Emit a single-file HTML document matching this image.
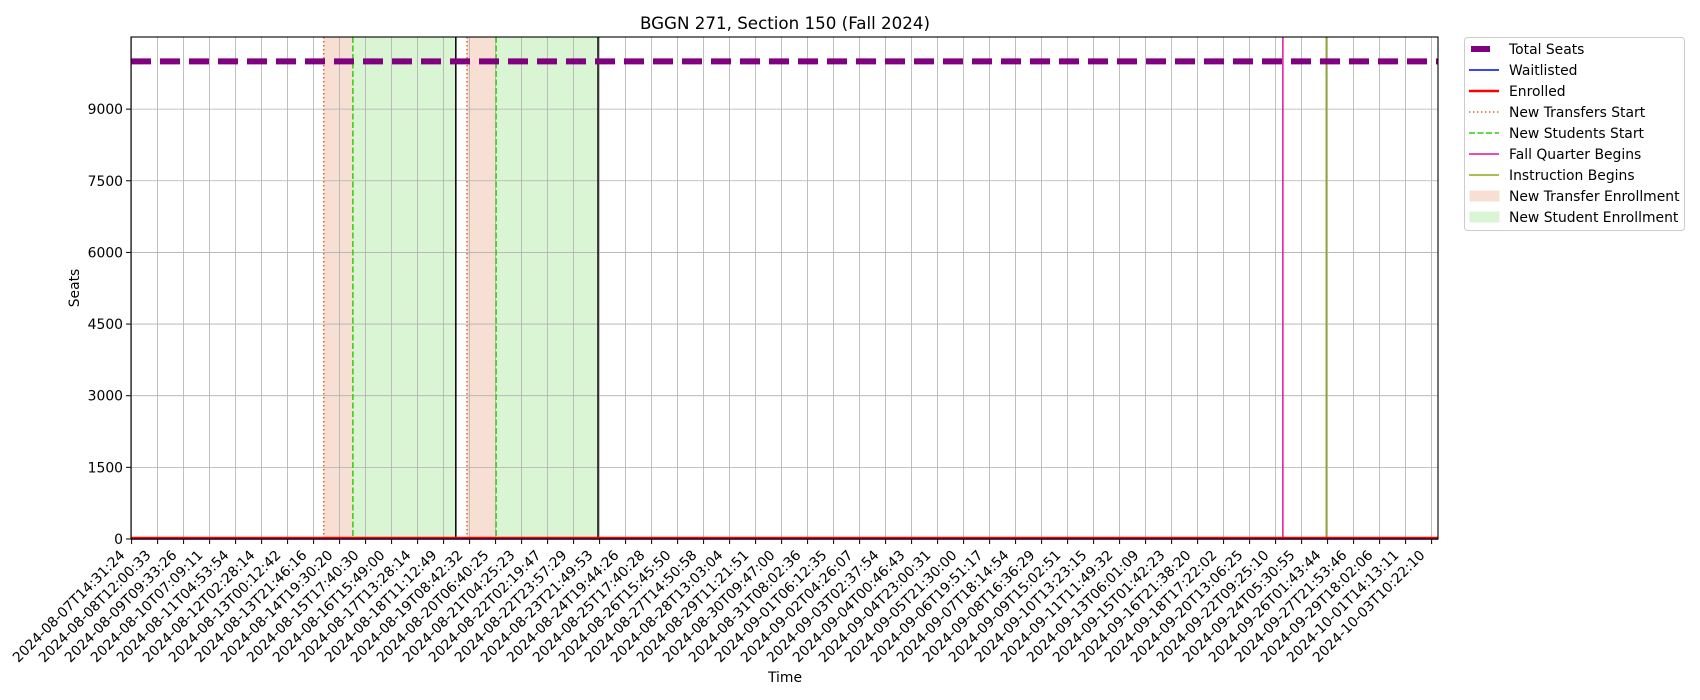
<!DOCTYPE html>
<html><head><meta charset="utf-8"><style>
html,body{margin:0;padding:0;background:#fff;}
svg{display:block;font-family:"DejaVu Sans","Liberation Sans",sans-serif;}
</style></head><body>
<svg id="chart" width="1700" height="700" viewBox="0 0 1700 700">
<text x="785" y="29" font-size="16.7" text-anchor="middle">BGGN 271, Section 150 (Fall 2024)</text>
<g id="plot"></g>
<text x="785" y="682" font-size="13.9" text-anchor="middle">Time</text>
<text transform="translate(79,288) rotate(-90)" font-size="13.9" text-anchor="middle">Seats</text>
<g id="legend"></g>
</svg>
<script>
const tickLabels = ["2024-08-07T14:31:24","2024-08-08T12:00:33","2024-08-09T09:33:26","2024-08-10T07:09:11","2024-08-11T04:53:54","2024-08-12T02:28:14","2024-08-13T00:12:42","2024-08-13T21:46:16","2024-08-14T19:30:20","2024-08-15T17:40:30","2024-08-16T15:49:00","2024-08-17T13:28:14","2024-08-18T11:12:49","2024-08-19T08:42:32","2024-08-20T06:40:25","2024-08-21T04:25:23","2024-08-22T02:19:47","2024-08-22T23:57:29","2024-08-23T21:49:53","2024-08-24T19:44:26","2024-08-25T17:40:28","2024-08-26T15:45:50","2024-08-27T14:50:58","2024-08-28T13:03:04","2024-08-29T11:21:51","2024-08-30T09:47:00","2024-08-31T08:02:36","2024-09-01T06:12:35","2024-09-02T04:26:07","2024-09-03T02:37:54","2024-09-04T00:46:43","2024-09-04T23:00:31","2024-09-05T21:30:00","2024-09-06T19:51:17","2024-09-07T18:14:54","2024-09-08T16:36:29","2024-09-09T15:02:51","2024-09-10T13:23:15","2024-09-11T11:49:32","2024-09-13T06:01:09","2024-09-15T01:42:23","2024-09-16T21:38:20","2024-09-18T17:22:02","2024-09-20T13:06:25","2024-09-22T09:25:10","2024-09-24T05:30:55","2024-09-26T01:43:44","2024-09-27T21:53:46","2024-09-29T18:02:06","2024-10-01T14:13:11","2024-10-03T10:22:10"];
const yTicks = [0,1500,3000,4500,6000,7500,9000];
const totalSeats = [10000, 10000];
const enrolled = [0, 0];
const waitlisted = [0, 0];
// event positions in tick-index units
const transferStarts = [7.39, 12.9];
const studentStarts = [8.51, 14.02];
const windowEnds = [12.47, 17.94];
const fallQuarterBegins = [44.28];
const instructionBegins = [45.95];

const L=131,R=1438,T=37,B=539;
const x0=131.6, dx=26;
const xs = i => x0 + i*dx;
const yMax=10510;
const ys = v => B - v/yMax*(B-T);
const NS="http://www.w3.org/2000/svg";
const plot=document.getElementById('plot');
function mk(tag,attrs,parent){const e=document.createElementNS(NS,tag);for(const k in attrs)e.setAttribute(k,attrs[k]);(parent||plot).appendChild(e);return e;}

for(let k=0;k<transferStarts.length;k++){
  const a=mk('rect',{x:xs(transferStarts[k]),y:T,width:xs(studentStarts[k])-xs(transferStarts[k]),height:B-T,fill:'#f7dfd4'});
  
  
  const b=mk('rect',{x:xs(studentStarts[k]),y:T,width:xs(windowEnds[k])-xs(studentStarts[k]),height:B-T,fill:'#d9f5d3'});
  
  
}
for(let i=0;i<tickLabels.length;i++){
  const g=mk('line',{x1:xs(i),x2:xs(i),y1:T,y2:B,stroke:'#b0b0b0','stroke-width':0.8});
  
  
}
yTicks.forEach(v=>{
  const g=mk('line',{x1:L,x2:R,y1:ys(v),y2:ys(v),stroke:'#b0b0b0','stroke-width':0.8});
  
  
});
function vline(v,color,dash,name){
  const l=mk('line',{x1:xs(v),x2:xs(v),y1:T,y2:B,stroke:color,'stroke-width':1.5});
  if(dash)l.setAttribute('stroke-dasharray',dash);
  
  
}
transferStarts.forEach(v=>vline(v,'#e8632a','1.5,2.5','new-transfers-start-line'));
studentStarts.forEach(v=>vline(v,'#33cc11','6,2.5','new-students-start-line'));
windowEnds.forEach(v=>vline(v,'#000','', 'enrollment-window-end-line'));
fallQuarterBegins.forEach(v=>vline(v,'#e0159e','','fall-quarter-begins-line'));
instructionBegins.forEach(v=>vline(v,'#8aaa1a','','instruction-begins-line'));
const ts=mk('line',{x1:L,x2:R,y1:ys(totalSeats[0]),y2:ys(totalSeats[1]),stroke:'#800080','stroke-width':6,'stroke-dasharray':'20,9'});


const wl=mk('line',{x1:L,x2:R,y1:ys(waitlisted[0]),y2:ys(waitlisted[1]),stroke:'#0000ff','stroke-width':1.5});


const en=mk('line',{x1:L,x2:R,y1:ys(enrolled[0])-1,y2:ys(enrolled[1])-1,stroke:'#ff0000','stroke-width':2.5});


const fr=mk('rect',{x:L,y:T,width:R-L,height:B-T,fill:'none',stroke:'#000','stroke-width':1.1});


tickLabels.forEach((t,i)=>{
  const x=xs(i);
  const tk=mk('line',{x1:x,x2:x,y1:B,y2:B+5,stroke:'#000','stroke-width':1});
  
  
  const tx=mk('text',{transform:`translate(${x-6},${B+17}) rotate(-45)`,'text-anchor':'end','font-size':13.9});
  tx.textContent=t;
  
  
});
yTicks.forEach(v=>{
  const y=ys(v);
  const tk=mk('line',{x1:L-5,x2:L,y1:y,y2:y,stroke:'#000','stroke-width':1});
  
  
  const tx=mk('text',{x:L-8,y:y+5,'text-anchor':'end','font-size':13.9});
  tx.textContent=v;
  
  
});
const lg=document.getElementById('legend');
mk('rect',{x:1464.5,y:37.5,width:220,height:193,rx:3,fill:'#fff',stroke:'#ccc','stroke-width':1},lg);
const items=[
 ['Total Seats','line','#800080',6,''],
 ['Waitlisted','line','#0000ff',1.5,''],
 ['Enrolled','line','#ff0000',2.5,''],
 ['New Transfers Start','line','#e8632a',1.5,'1.5,2.5'],
 ['New Students Start','line','#33cc11',1.5,'6,2.5'],
 ['Fall Quarter Begins','line','#e0159e',1.5,''],
 ['Instruction Begins','line','#8aaa1a',1.5,''],
 ['New Transfer Enrollment','patch','#f7dfd4',0,''],
 ['New Student Enrollment','patch','#d9f5d3',0,'']
];
items.forEach((it,k)=>{
  const y=49+k*21;
  const g=mk('g',{},lg);
  
  
  if(it[1]==='line'){
    const l=mk('line',{x1:it[0]==='Total Seats'?1471:1469,x2:it[0]==='Total Seats'?1490:1499,y1:y,y2:y,stroke:it[2],'stroke-width':it[3]},g);
    if(it[4])l.setAttribute('stroke-dasharray',it[4]);
  } else {
    mk('rect',{x:1470,y:y-5,width:29,height:10,fill:it[2],stroke:it[2]},g);
  }
  const t=mk('text',{x:1509,y:y+5,'font-size':13.9},g);
  t.textContent=it[0];
});
</script>
</body></html>
